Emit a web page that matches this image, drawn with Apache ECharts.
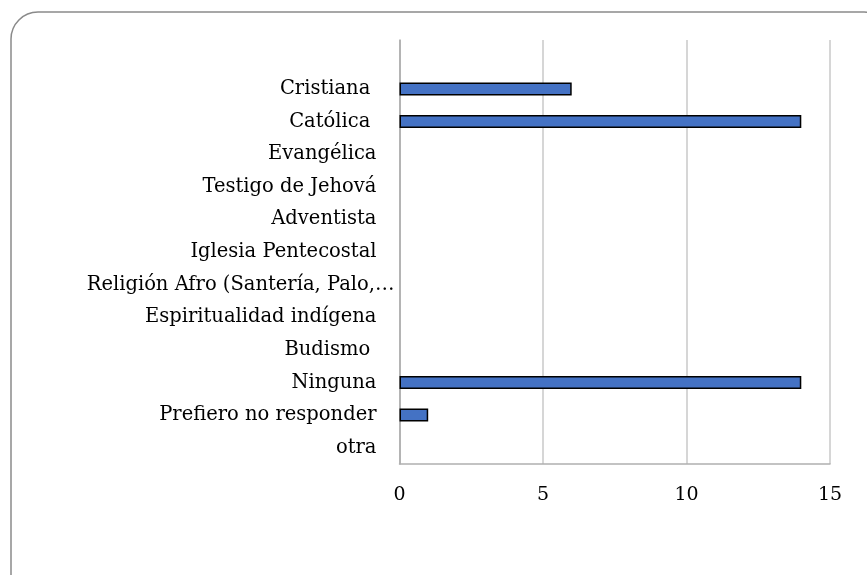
<!DOCTYPE html>
<html>
<head>
<meta charset="utf-8">
<script src="https://cdn.jsdelivr.net/npm/echarts@6/dist/echarts.min.js"></script>
<style>html,body{margin:0;padding:0;background:#fff}#c{width:867px;height:575px}</style>
</head>
<body>
<div id="c"></div>
<script>
// Categories listed top to bottom (the original keeps an empty slot above the first one)
var categories = ["Cristiana ", "Católica ", "Evangélica", "Testigo de Jehová", "Adventista", "Iglesia Pentecostal", "Religión Afro (Santería, Palo,…", "Espiritualidad indígena", "Budismo ", "Ninguna", "Prefiero no responder", "otra"];
var values = [6, 14, 0, 0, 0, 0, 0, 0, 0, 14, 1, 0];
var xTicks = [0, 5, 10, 15];

var cats = [""].concat(categories.map(function (c) {
  // the truncated label runs past the common right edge in the original
  return c.indexOf('…') >= 0 ? {value: c, textStyle: {padding: [0, -18, 0, 0]}} : c;
})).reverse();
var vals = [null].concat(values.map(function (v) {
  return v === 0 ? {value: 0, itemStyle: {borderWidth: 0, opacity: 0}} : v;
})).reverse();

var chart = echarts.init(document.getElementById('c'), null, {renderer: 'canvas'});
var font = '"DejaVu Serif", serif';
chart.setOption({
  animation: false,
  backgroundColor: '#ffffff',
  graphic: [{
    type: 'rect',
    shape: {x: 11, y: 12, width: 880, height: 600, r: 27},
    style: {fill: 'none', stroke: '#8a8a8a', lineWidth: 1.5},
    silent: true
  }],
  grid: {left: 399.5, right: 37, top: 40, bottom: 111, containLabel: false},
  xAxis: {
    type: 'value',
    min: xTicks[0], max: xTicks[xTicks.length - 1], interval: 5,
    axisLine: {show: true, lineStyle: {color: '#b0b0b0', width: 1.5}},
    axisTick: {show: false},
    splitLine: {show: true, lineStyle: {color: '#c8c8c8', width: 1.5}},
    axisLabel: {color: '#000', fontFamily: font, fontSize: 19, margin: 22}
  },
  yAxis: {
    type: 'category',
    data: cats,
    axisLine: {show: true, lineStyle: {color: '#a8a8a8', width: 1.5}},
    axisTick: {show: false},
    axisLabel: {color: '#000', fontFamily: font, fontSize: 19.5, margin: 23, interval: 0}
  },
  series: [{
    type: 'bar',
    data: vals,
    barWidth: 13,
    itemStyle: {color: '#4472C4', borderColor: '#000', borderWidth: 1.5}
  }]
});
</script>
</body>
</html>
